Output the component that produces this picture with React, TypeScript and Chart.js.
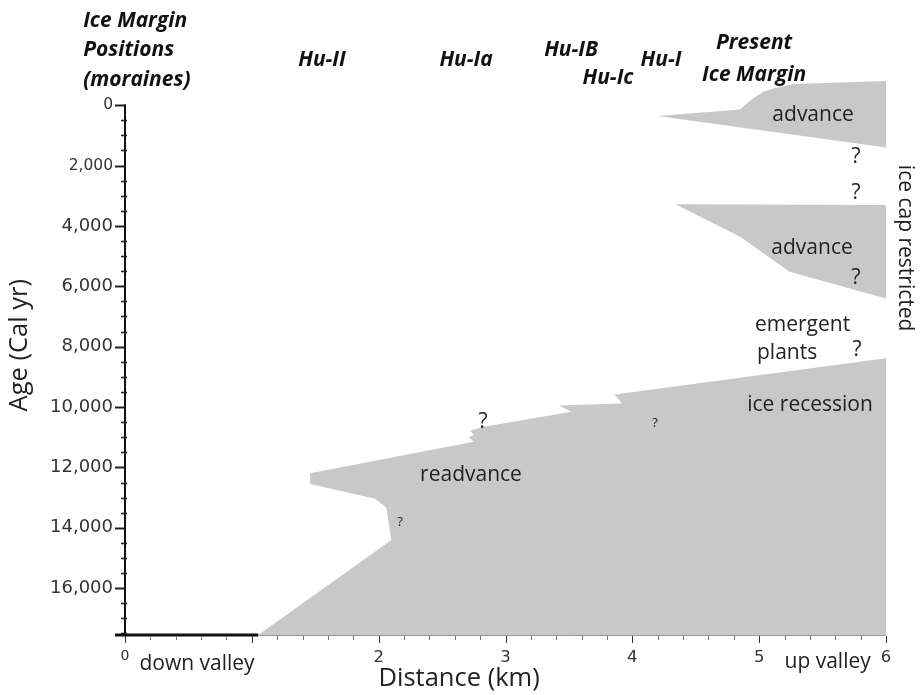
import React, { useEffect, useRef } from 'react';
import { Chart, registerables } from 'chart.js';
Chart.register(...registerables);

// ---- data (distance in km, age in cal yr BP) ----
const topAdvanceKm = [4.2, 4.85, 4.91, 4.95, 5.03, 5.11, 5.27, 6.0, 6.0];
const topAdvanceAge = [360, 140, -80, -220, -440, -550, -700, -800, 1400];

const midAdvanceKm = [4.34, 6.0, 6.0, 5.24, 4.85];
const midAdvanceAge = [3280, 3310, 6400, 5520, 4360];

const recessionKm = [6.0, 3.86, 3.92, 3.42, 3.52, 2.83, 2.72, 2.75, 2.71, 2.75, 1.46, 1.46, 1.97, 2.06, 2.1, 1.05, 6.0];
const recessionAge = [8380, 9580, 9880, 9950, 10155, 10650, 10785, 10925, 11000, 11150, 12195, 12550, 13040, 13325, 14400, 17550, 17550];

const yTickValues = [0, 2000, 4000, 6000, 8000, 10000, 12000, 14000, 16000];
const xTickValues = [0, 1, 2, 3, 4, 5, 6];
const xTickLabels = ['0', '', '2', '3', '4', '5', '6'];

const Y_MIN = -900;
const Y_MAX = 17550;
const X_MIN = 0;
const X_MAX = 6;

const SANS = '"Open Sans", "Noto Sans", sans-serif';

type Lbl = { text: string; x: number; y: number; size: number; bold?: boolean; align?: CanvasTextAlign; rot?: number };

const headerLabels: Lbl[] = [
  { text: 'Ice Margin', x: -0.33, y: -2781, size: 21, bold: true, align: 'left' },
  { text: 'Positions', x: -0.33, y: -1821, size: 21, bold: true, align: 'left' },
  { text: '(moraines)', x: -0.33, y: -828, size: 21, bold: true, align: 'left' },
  { text: 'Hu-II', x: 1.553, y: -1490, size: 21, bold: true },
  { text: 'Hu-Ia', x: 2.689, y: -1490, size: 21, bold: true },
  { text: 'Hu-IB', x: 3.517, y: -1821, size: 21, bold: true },
  { text: 'Hu-Ic', x: 3.808, y: -894, size: 21, bold: true },
  { text: 'Hu-I', x: 4.226, y: -1490, size: 21, bold: true },
  { text: 'Present', x: 4.96, y: -2053, size: 21, bold: true },
  { text: 'Ice Margin', x: 4.96, y: -993, size: 21, bold: true },
];

const plotLabels: Lbl[] = [
  { text: 'advance', x: 5.425, y: 331, size: 21 },
  { text: '?', x: 5.764, y: 1722, size: 21 },
  { text: '?', x: 5.764, y: 2914, size: 21 },
  { text: 'advance', x: 5.417, y: 4735, size: 21 },
  { text: '?', x: 5.764, y: 5728, size: 21 },
  { text: 'emergent', x: 4.967, y: 7284, size: 21, align: 'left' },
  { text: 'plants', x: 4.983, y: 8211, size: 21, align: 'left' },
  { text: '?', x: 5.771, y: 8112, size: 21 },
  { text: 'ice recession', x: 5.401, y: 9933, size: 21 },
  { text: '?', x: 4.179, y: 10529, size: 13 },
  { text: '?', x: 2.823, y: 10496, size: 21 },
  { text: 'readvance', x: 2.728, y: 12251, size: 21 },
  { text: '?', x: 2.168, y: 13807, size: 13 },
  { text: 'ice cap restricted', x: 6.15, y: 4735, size: 21, rot: Math.PI / 2 },
  { text: 'down valley', x: 0.568, y: 18500, size: 21 },
  { text: 'up valley', x: 5.54, y: 18450, size: 21 },
  { text: 'Distance (km)', x: 2.634, y: 19000, size: 25.5 },
  { text: 'Age (Cal yr)', x: -0.83, y: 7950, size: 25.5, rot: -Math.PI / 2 },
];

const toPts = (xs: number[], ys: number[]) => xs.map((x, i) => ({ x, y: ys[i] }));

const axesPlugin = {
  id: 'customAxes',
  afterDatasetsDraw(chart: any) {
    const { ctx } = chart;
    const xs = chart.scales.x;
    const ys = chart.scales.y;
    const x0 = xs.getPixelForValue(X_MIN);
    const yBottom = ys.getPixelForValue(Y_MAX);
    const yTop = ys.getPixelForValue(0);
    ctx.save();
    // y axis line
    ctx.strokeStyle = '#111';
    ctx.lineWidth = 2;
    ctx.beginPath();
    ctx.moveTo(x0, yTop - 1);
    ctx.lineTo(x0, yBottom);
    ctx.stroke();
    // y ticks
    for (let v = 0; v <= 17500; v += 500) {
      const py = Math.round(ys.getPixelForValue(v)) + 0.5;
      const major = v % 2000 === 0;
      ctx.lineWidth = major ? 2 : 1.6;
      ctx.strokeStyle = '#222';
      ctx.beginPath();
      ctx.moveTo(major ? x0 - 10 : x0 - 4, py);
      ctx.lineTo(major ? x0 : x0 + 2, py);
      ctx.stroke();
    }
    // x axis line
    const baseStart = xs.getPixelForValue(recessionKm[recessionKm.length - 2]);
    ctx.strokeStyle = '#999';
    ctx.lineWidth = 1;
    ctx.beginPath();
    ctx.moveTo(baseStart, yBottom + 0.5);
    ctx.lineTo(xs.getPixelForValue(X_MAX), yBottom + 0.5);
    ctx.stroke();
    ctx.strokeStyle = '#111';
    ctx.lineWidth = 3;
    ctx.beginPath();
    ctx.moveTo(x0 - 10, yBottom);
    ctx.lineTo(baseStart, yBottom);
    ctx.stroke();
    // x ticks
    for (let i = 0; i <= 30; i++) {
      const v = i * 0.2;
      const px = Math.round(xs.getPixelForValue(v)) + 0.5;
      const major = i % 5 === 0;
      ctx.strokeStyle = major ? '#333' : '#777';
      ctx.lineWidth = 1;
      ctx.beginPath();
      ctx.moveTo(px, yBottom + 1);
      ctx.lineTo(px, yBottom + (major ? 8 : 5));
      ctx.stroke();
    }
    // labels
    const drawLbl = (l: Lbl, color: string) => {
      const px = xs.getPixelForValue(l.x);
      const py = ys.getPixelForValue(l.y);
      ctx.save();
      ctx.translate(px, py);
      if (l.rot) ctx.rotate(l.rot);
      ctx.font = `${l.bold ? 'italic bold ' : ''}${l.size}px ${SANS}`;
      ctx.fillStyle = color;
      ctx.textAlign = l.align || 'center';
      ctx.textBaseline = 'middle';
      ctx.fillText(l.text, 0, 0);
      ctx.restore();
    };
    headerLabels.forEach((l) => drawLbl(l, '#111'));
    plotLabels.forEach((l) => drawLbl(l, '#222'));
    ctx.restore();
  },
};

export default function App() {
  const ref = useRef<HTMLCanvasElement | null>(null);
  useEffect(() => {
    if (!ref.current) return;
    const fillColor = '#c8c8c8';
    const ds = (label: string, xs: number[], ys: number[]) => ({
      label,
      data: toPts(xs, ys),
      fill: 'shape',
      backgroundColor: fillColor,
      borderColor: fillColor,
      borderWidth: 0,
      pointRadius: 0,
      tension: 0,
      clip: false,
    });
    const chart = new Chart(ref.current, {
      type: 'line',
      data: {
        datasets: [
          ds('top advance', topAdvanceKm, topAdvanceAge),
          ds('mid advance', midAdvanceKm, midAdvanceAge),
          ds('recession', recessionKm, recessionAge),
        ] as any,
      },
      options: {
        animation: false,
        responsive: false,
        events: [],
        layout: { padding: { top: 78, right: 34, left: 0, bottom: 0 } },
        plugins: { legend: { display: false }, tooltip: { enabled: false }, title: { display: false } },
        scales: {
          x: {
            type: 'linear',
            min: X_MIN,
            max: X_MAX,
            grid: { display: false, drawTicks: false },
            border: { display: false },
            afterBuildTicks: (s: any) => {
              s.ticks = xTickValues.map((v) => ({ value: v }));
            },
            afterFit: (s: any) => {
              s.height = 60;
            },
            ticks: {
              autoSkip: false,
              maxRotation: 0,
              padding: 13,
              color: '#333',
              font: (c: any) => ({ family: 'DejaVu Sans', size: c.tick && c.tick.value === 0 ? 14 : 16.5 }),
              callback: (v: any) => xTickLabels[xTickValues.indexOf(Number(v))] ?? '',
            },
          },
          y: {
            type: 'linear',
            reverse: true,
            min: Y_MIN,
            max: Y_MAX,
            grid: { display: false, drawTicks: false },
            border: { display: false },
            afterBuildTicks: (s: any) => {
              s.ticks = yTickValues.map((v) => ({ value: v }));
            },
            afterFit: (s: any) => {
              s.width = 125;
            },
            ticks: {
              autoSkip: false,
              padding: 12,
              color: '#333',
              font: (c: any) => ({ family: 'DejaVu Sans', size: c.tick && c.tick.value <= 2000 ? 15.5 : 18 }),
              callback: (v: any) => Number(v).toLocaleString('en-US'),
            },
          },
        },
      } as any,
      plugins: [axesPlugin],
    });
    return () => chart.destroy();
  }, []);
  return (
    <div style={{ position: 'absolute', left: 0, top: 0, width: 920, height: 695, background: '#fff' }}>
      <canvas ref={ref} width={920} height={695} style={{ display: 'block' }} />
    </div>
  );
}
